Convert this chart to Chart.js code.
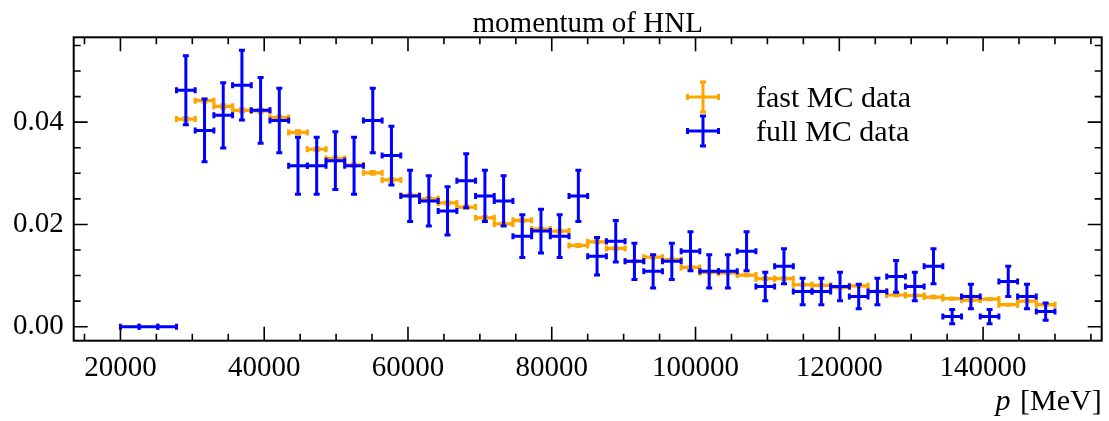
<!DOCTYPE html>
<html>
<head>
<meta charset="utf-8">
<script src="https://cdn.jsdelivr.net/npm/chart.js@4.4.0/dist/chart.umd.min.js"></script>
<style>
	html, body { margin: 0; padding: 0; background: #fff; }
	#wrap { width: 1109px; height: 421px; }
</style>
</head>
<body>
<div id="wrap"><canvas id="canvas" width="1109" height="421"></canvas></div>
<script>
// bin centres of the momentum histogram [MeV]
const binCenters = [
	21300, 23900, 26500, 29100, 31700, 34300, 36900, 39500, 42100, 44700,
	47300, 49900, 52500, 55100, 57700, 60300, 62900, 65500, 68100, 70700,
	73300, 75900, 78500, 81100, 83700, 86300, 88900, 91500, 94100, 96700,
	99300, 101900, 104500, 107100, 109700, 112300, 114900, 117500, 120100, 122700,
	125300, 127900, 130500, 133100, 135700, 138300, 140900, 143500, 146100, 148700
];
const binHalfWidth = 1300;

const fastValues = [
	null, null, null, 0.0406, 0.0442, 0.0431, 0.0423, 0.0422, 0.0409, 0.0380,
	0.0347, 0.0329, 0.0316, 0.0301, 0.0287, 0.0257, 0.0250, 0.0242, 0.0234, 0.0213,
	0.0201, 0.0208, 0.0191, 0.0187, 0.0159, 0.0166, 0.0153, 0.0128, 0.0136, 0.0131,
	0.0116, 0.0106, 0.0105, 0.0101, 0.0094, 0.0094, 0.0082, 0.0081, 0.0077, 0.0080,
	0.0069, 0.0062, 0.0061, 0.0058, 0.0055, 0.0052, 0.0054, 0.0043, 0.0050, 0.0043
];
const fastErrors = [
	0, 0, 0, 0.00029, 0.00030, 0.00030, 0.00029, 0.00029, 0.00029, 0.00028,
	0.00027, 0.00026, 0.00025, 0.00025, 0.00024, 0.00023, 0.00023, 0.00022, 0.00022, 0.00021,
	0.00020, 0.00021, 0.00020, 0.00020, 0.00018, 0.00018, 0.00018, 0.00016, 0.00017, 0.00016,
	0.00015, 0.00015, 0.00015, 0.00014, 0.00014, 0.00014, 0.00013, 0.00013, 0.00013, 0.00013,
	0.00012, 0.00011, 0.00011, 0.00011, 0.00011, 0.00010, 0.00010, 0.00009, 0.00010, 0.00009
];

const fullValues = [
	0, 0, 0, 0.04625, 0.03838, 0.04133, 0.04723, 0.04231, 0.04034, 0.03149,
	0.03149, 0.03247, 0.03149, 0.04034, 0.03346, 0.02558, 0.02460, 0.02263, 0.02854, 0.02558,
	0.02460, 0.01771, 0.01870, 0.01771, 0.02558, 0.01378, 0.01673, 0.01279, 0.01082, 0.01279,
	0.01476, 0.01082, 0.01082, 0.01476, 0.00787, 0.01181, 0.00689, 0.00689, 0.00787, 0.00590,
	0.00689, 0.00984, 0.00787, 0.01181, 0.00197, 0.00590, 0.00197, 0.00886, 0.00590, 0.00295
];
const fullErrors = [
	0, 0, 0, 0.00675, 0.00614, 0.00638, 0.00682, 0.00645, 0.00630, 0.00557,
	0.00557, 0.00565, 0.00557, 0.00630, 0.00574, 0.00502, 0.00492, 0.00472, 0.00530, 0.00502,
	0.00492, 0.00417, 0.00429, 0.00417, 0.00502, 0.00368, 0.00406, 0.00355, 0.00326, 0.00355,
	0.00381, 0.00326, 0.00326, 0.00381, 0.00278, 0.00341, 0.00260, 0.00260, 0.00278, 0.00241,
	0.00260, 0.00311, 0.00278, 0.00341, 0.00139, 0.00241, 0.00139, 0.00295, 0.00241, 0.00170
];

const xMajorTicks = [20000, 40000, 60000, 80000, 100000, 120000, 140000];
const yMajorTicks = [0, 0.02, 0.04];
const xMinorStep = 5000;
const yMinorStep = 0.005;

const serif = '"Liberation Serif", "DejaVu Serif", serif';
const labelFont = { family: serif, size: 29 };

function toPoints(vals) {
	return binCenters.map((x, i) => ({ x, y: vals[i] }));
}

function drawErrorBars(chart, ds) {
	const { ctx, scales: { x: xs, y: ys } } = chart;
	const cap = 3;
	ctx.save();
	ctx.strokeStyle = ds.borderColor;
	ctx.lineWidth = ds.borderWidth;
	ds.data.forEach((p, i) => {
		if (p.y === null) return;
		const xc = xs.getPixelForValue(p.x);
		const xl = xs.getPixelForValue(p.x - binHalfWidth);
		const xr = xs.getPixelForValue(p.x + binHalfWidth);
		const yc = ys.getPixelForValue(p.y);
		const yt = ys.getPixelForValue(p.y + ds.errors[i]);
		const yb = ys.getPixelForValue(p.y - ds.errors[i]);
		ctx.beginPath();
		ctx.moveTo(xl, yc); ctx.lineTo(xr, yc);
		ctx.moveTo(xc, yt); ctx.lineTo(xc, yb);
		ctx.moveTo(xl, yc - cap); ctx.lineTo(xl, yc + cap);
		ctx.moveTo(xr, yc - cap); ctx.lineTo(xr, yc + cap);
		ctx.moveTo(xc - cap, yt); ctx.lineTo(xc + cap, yt);
		ctx.moveTo(xc - cap, yb); ctx.lineTo(xc + cap, yb);
		ctx.stroke();
	});
	ctx.restore();
}

function drawCross(ctx, color, cx, cy) {
	const hw = 15.5, hh = 15, cap = 3;
	ctx.save();
	ctx.strokeStyle = color;
	ctx.lineWidth = 3;
	ctx.beginPath();
	ctx.moveTo(cx - hw, cy); ctx.lineTo(cx + hw, cy);
	ctx.moveTo(cx, cy - hh); ctx.lineTo(cx, cy + hh);
	ctx.moveTo(cx - hw, cy - cap); ctx.lineTo(cx - hw, cy + cap);
	ctx.moveTo(cx + hw, cy - cap); ctx.lineTo(cx + hw, cy + cap);
	ctx.moveTo(cx - cap, cy - hh); ctx.lineTo(cx + cap, cy - hh);
	ctx.moveTo(cx - cap, cy + hh); ctx.lineTo(cx + cap, cy + hh);
	ctx.stroke();
	ctx.restore();
}

const mplStyle = {
	id: 'mplStyle',
	afterDatasetsDraw(chart) {
		chart.data.datasets.forEach(ds => drawErrorBars(chart, ds));
	},
	afterDraw(chart) {
		const { ctx, chartArea: a, scales: { x: xs, y: ys } } = chart;
		ctx.save();
		// inward ticks on all four sides
		ctx.strokeStyle = '#000';
		ctx.lineWidth = 1.6;
		ctx.beginPath();
		for (let v = Math.ceil(xs.min / xMinorStep) * xMinorStep; v <= xs.max; v += xMinorStep) {
			const px = xs.getPixelForValue(v);
			const len = xMajorTicks.includes(v) ? 14 : 7;
			ctx.moveTo(px, a.bottom); ctx.lineTo(px, a.bottom - len);
			ctx.moveTo(px, a.top); ctx.lineTo(px, a.top + len);
		}
		for (let k = Math.ceil(ys.min / yMinorStep); k * yMinorStep <= ys.max; k++) {
			const v = k * yMinorStep;
			const py = ys.getPixelForValue(v);
			const len = yMajorTicks.some(t => Math.abs(t - v) < 1e-9) ? 14 : 7;
			ctx.moveTo(a.left, py); ctx.lineTo(a.left + len, py);
			ctx.moveTo(a.right, py); ctx.lineTo(a.right - len, py);
		}
		ctx.stroke();
		// frame
		ctx.lineWidth = 2;
		ctx.strokeRect(a.left, a.top, a.right - a.left, a.bottom - a.top);

		// title and axis label
		ctx.fillStyle = '#000';
		ctx.font = `29px ${serif}`;
		ctx.textAlign = 'center';
		ctx.textBaseline = 'alphabetic';
		ctx.fillText('momentum of HNL', (a.left + a.right) / 2, 31.5);

		ctx.textAlign = 'right';
		ctx.font = `30px ${serif}`;
		const unit = ' [MeV]';
		ctx.fillText(unit, a.right, 410);
		const uw = ctx.measureText(unit).width;
		ctx.font = `italic 30px ${serif}`;
		ctx.fillText('p', a.right - uw - 2, 410);

		// legend
		ctx.textAlign = 'left';
		ctx.font = `30px ${serif}`;
		chart.data.datasets.forEach((ds, i) => {
			const cy = 97 + i * 34;
			drawCross(ctx, ds.borderColor, 703, cy);
			ctx.fillText(ds.label, 756, cy + 10);
		});
		ctx.restore();
	}
};

const chart = new Chart(document.getElementById('canvas').getContext('2d'), {
	type: 'scatter',
	data: {
		datasets: [
			{ label: 'fast MC data', data: toPoints(fastValues), errors: fastErrors, borderColor: '#ffa500', backgroundColor: '#ffa500', borderWidth: 3.2, pointRadius: 0 },
			{ label: 'full MC data', data: toPoints(fullValues), errors: fullErrors, borderColor: '#0000ff', backgroundColor: '#0000ff', borderWidth: 3, pointRadius: 0 }
		]
	},
	options: {
		responsive: false,
		animation: false,
		devicePixelRatio: 1,
		layout: { padding: { top: 37.3, right: 7.3, left: 0, bottom: 0 } },
		plugins: { legend: { display: false }, tooltip: { enabled: false }, title: { display: false } },
		scales: {
			x: {
				type: 'linear', min: 13500, max: 156500,
				grid: { display: false, drawTicks: false },
				border: { display: false },
				ticks: {
					maxRotation: 0, autoSkip: false,
					padding: 10, color: '#000', font: labelFont,
					callback: v => String(v)
				},
				afterBuildTicks: s => { s.ticks = xMajorTicks.map(value => ({ value })); },
				afterFit: s => { s.height = 80.3; s.paddingLeft = 0; s.paddingRight = 0; }
			},
			y: {
				min: -0.00274, max: 0.0566,
				grid: { display: false, drawTicks: false },
				border: { display: false },
				ticks: {
					padding: 10, color: '#000', font: labelFont,
					callback: v => v.toFixed(2)
				},
				afterBuildTicks: s => { s.ticks = yMajorTicks.map(value => ({ value })); },
				afterFit: s => { s.width = 73.7; s.paddingTop = 0; s.paddingBottom = 0; }
			}
		}
	},
	plugins: [mplStyle]
});
</script>
</body>
</html>
